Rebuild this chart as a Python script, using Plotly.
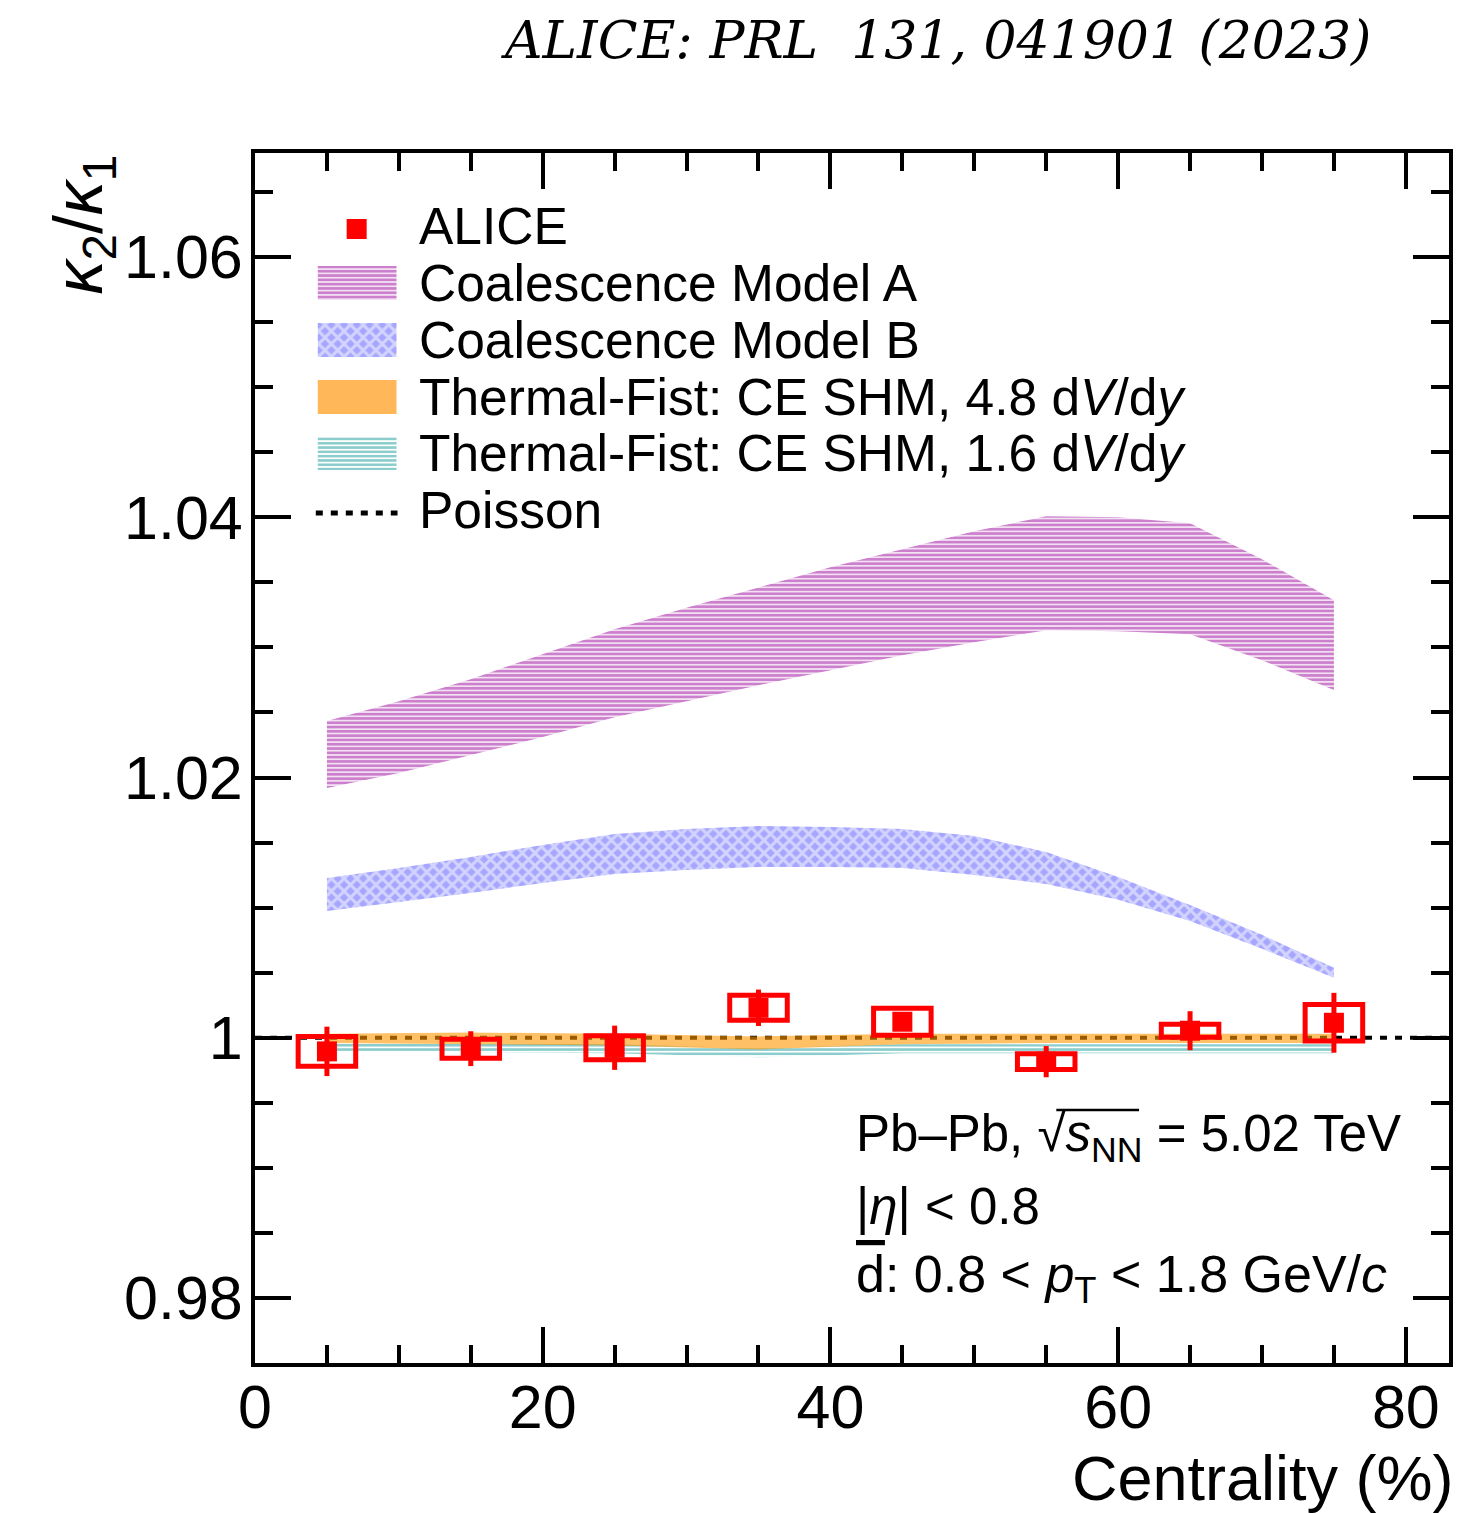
import plotly.graph_objects as go

# ---------------- data ----------------
cent = [5, 15, 25, 35, 45, 55, 65, 75]
alice_y = [0.99895, 0.99916, 0.99923, 1.00230, 1.00123, 0.99816, 1.00054, 1.00115]
alice_stat = [0.0019, 0.00134, 0.0017, 0.0014, 0.0006, 0.0012, 0.0015, 0.0023]
alice_sys = [0.00115, 0.00073, 0.00092, 0.00096, 0.00104, 0.0006, 0.0005, 0.0014]
box_halfwidth = 2.0

band_x = [5, 10, 15, 20, 25, 30, 35, 40, 45, 50, 55, 60, 65, 70, 75]
modelA_hi = [1.02434, 1.02587, 1.02756, 1.02948, 1.03140, 1.03305, 1.03463, 1.03616,
             1.03754, 1.03893, 1.04008, 1.04000, 1.03954, 1.03678, 1.03363]
modelA_lo = [1.01919, 1.02035, 1.02173, 1.02311, 1.02464, 1.02587, 1.02710, 1.02825,
             1.02940, 1.03040, 1.03132, 1.03125, 1.03102, 1.02902, 1.02672]
modelB_hi = [1.01228, 1.01305, 1.01390, 1.01482, 1.01566, 1.01605, 1.01628, 1.01620,
             1.01605, 1.01551, 1.01428, 1.01236, 1.01021, 1.00791, 1.00537]
modelB_lo = [1.00975, 1.01044, 1.01113, 1.01190, 1.01259, 1.01290, 1.01313, 1.01313,
             1.01305, 1.01251, 1.01182, 1.01060, 1.00898, 1.00683, 1.00461]

tf_x = [5, 15, 25, 35, 45, 55, 65, 75]
tf48_hi = [1.0003, 1.0004, 1.0003, 1.0001, 1.0003, 1.0003, 1.0003, 1.0003]
tf48_lo = [0.9996, 0.9995, 0.9994, 0.9991, 0.9995, 0.9996, 0.9996, 0.9996]
tf16_hi = [0.9996, 0.9996, 0.9995, 0.9992, 0.9995, 0.9995, 0.9995, 0.9995]
tf16_lo = [0.9989, 0.9989, 0.9988, 0.9985, 0.9988, 0.9988, 0.9988, 0.9988]

poisson_x = [0, 83]
poisson_y = [1, 1]

xtick_vals = [0, 20, 40, 60, 80]
xtick_text = ["0", "20", "40", "60", "80"]
ytick_vals = [0.98, 1.0, 1.02, 1.04, 1.06]
ytick_text = ["0.98", "1", "1.02", "1.04", "1.06"]

legend_labels = ["ALICE", "Coalescence Model A", "Coalescence Model B",
                 "Thermal-Fist: CE SHM, 4.8 d<i>V</i>/d<i>y</i>",
                 "Thermal-Fist: CE SHM, 1.6 d<i>V</i>/d<i>y</i>", "Poisson"]

# ---------------- styles ----------------
FONT = "Liberation Sans"
W, H = 1465, 1513
ML, MR, MT, MB = 255, 12, 153, 150
PW, PH = W - ML - MR, H - MT - MB

patA = dict(shape="-", fgcolor="#990099", bgcolor="rgba(255,255,255,0)", size=4.3, solidity=0.7)
patB = dict(shape="x", fgcolor="#ffffff", bgcolor="#a6a6ff", size=9, solidity=0.55)
pat16 = dict(shape="-", fgcolor="#189a9a", bgcolor="rgba(255,255,255,0)", size=4.3, solidity=0.6)
orange_fill = "rgba(255,150,0,0.6)"


def px2paper_x(p):
    return (p - ML) / PW


def px2paper_y(p):
    return (H - MB - p) / PH


def band(xs, hi, lo):
    return list(xs) + list(xs)[::-1], list(hi) + list(lo)[::-1]


fig = go.Figure()

fig.add_trace(go.Scatter(x=poisson_x, y=poisson_y, mode="lines",
                         line=dict(color="black", width=4, dash="7px,8px")))

bx, by = band(band_x, modelA_hi, modelA_lo)
fig.add_trace(go.Scatter(x=bx, y=by, fill="toself", mode="lines", line=dict(width=0),
                         fillcolor="rgba(0,0,0,0)", fillpattern=patA))

bx, by = band(band_x, modelB_hi, modelB_lo)
fig.add_trace(go.Scatter(x=bx, y=by, fill="toself", mode="lines", line=dict(width=0),
                         fillcolor="rgba(0,0,0,0)", fillpattern=patB))

bx, by = band(tf_x, tf16_hi, tf16_lo)
fig.add_trace(go.Scatter(x=bx, y=by, fill="toself", mode="lines", line=dict(width=0),
                         fillcolor="rgba(0,0,0,0)", fillpattern=pat16))

bx, by = band(tf_x, tf48_hi, tf48_lo)
fig.add_trace(go.Scatter(x=bx, y=by, fill="toself", mode="lines", line=dict(width=0),
                         fillcolor=orange_fill))

for xc, yc, s in zip(cent, alice_y, alice_sys):
    fig.add_shape(type="rect", xref="x", yref="y",
                  x0=xc - box_halfwidth, x1=xc + box_halfwidth, y0=yc - s, y1=yc + s,
                  line=dict(color="#ff0000", width=5), fillcolor="rgba(0,0,0,0)", layer="above")

fig.add_trace(go.Scatter(x=cent, y=alice_y, mode="markers",
                         marker=dict(symbol="square", size=20, color="#ff0000", line=dict(width=0)),
                         error_y=dict(type="data", array=alice_stat, color="#ff0000",
                                      thickness=5, width=0)))

# ---------------- hand-made legend (swatches on an overlay paper-like axis) ----------------
sw_x0, sw_x1 = 318, 397
row_y = [226, 283, 340, 397, 453, 510]
sw_half = 17
text_x = 418


def swatch(row, **kw):
    yc = row_y[row]
    xs = [px2paper_x(v) for v in (sw_x0, sw_x1, sw_x1, sw_x0, sw_x0)]
    ys = [px2paper_y(v) for v in (yc - sw_half, yc - sw_half, yc + sw_half, yc + sw_half, yc - sw_half)]
    fig.add_trace(go.Scatter(x=xs, y=ys, xaxis="x2", yaxis="y2", fill="toself", mode="lines",
                             line=dict(width=0), **kw))


fig.add_trace(go.Scatter(x=[px2paper_x(357)], y=[px2paper_y(row_y[0] + 3)], xaxis="x2", yaxis="y2",
                         mode="markers", marker=dict(symbol="square", size=20, color="#ff0000")))
swatch(1, fillcolor="rgba(0,0,0,0)", fillpattern=patA)
swatch(2, fillcolor="rgba(0,0,0,0)", fillpattern=patB)
swatch(3, fillcolor="rgba(255,170,60,0.85)")
swatch(4, fillcolor="rgba(0,0,0,0)", fillpattern=pat16)
fig.add_trace(go.Scatter(x=[px2paper_x(316), px2paper_x(398)], y=[px2paper_y(row_y[5] + 3)] * 2,
                         xaxis="x2", yaxis="y2", mode="lines",
                         line=dict(color="black", width=5, dash="7px,8px")))

# radical bar over s_NN
fig.add_shape(type="line", xref="paper", yref="paper",
              x0=px2paper_x(1059), x1=px2paper_x(1142), y0=px2paper_y(1110), y1=px2paper_y(1110),
              line=dict(color="black", width=2.5))

axis_common = dict(showline=True, linecolor="black", linewidth=4, mirror="allticks",
                   ticks="inside", ticklen=36, tickwidth=4, tickcolor="black",
                   showgrid=False, zeroline=False,
                   tickfont=dict(family=FONT, size=61, color="black"))

fig.update_xaxes(range=[0, 83], tickvals=xtick_vals, ticktext=xtick_text,
                 minor=dict(dtick=5, tick0=0, ticklen=18, tickwidth=4, ticks="inside",
                            tickcolor="black", showgrid=False),
                 ticklabelstandoff=-12, **axis_common)
fig.update_yaxes(range=[0.975, 1.068], tickvals=ytick_vals, ticktext=ytick_text,
                 minor=dict(dtick=0.005, tick0=0.98, ticklen=18, tickwidth=4, ticks="inside",
                            tickcolor="black", showgrid=False),
                 ticklabelstandoff=-4, **axis_common)

anns = [
    dict(text="<i>κ</i><sub>2</sub>/<i>κ</i><sub>1</sub>", x=px2paper_x(82), y=1.0, xref="paper", yref="paper",
         xanchor="center", yanchor="top", textangle=-90, showarrow=False,
         font=dict(family=FONT, size=68, color="black")),
    dict(text="Centrality (%)", x=1.006, y=px2paper_y(1478), xref="paper", yref="paper",
         xanchor="right", yanchor="middle", showarrow=False,
         font=dict(family=FONT, size=63, color="black")),
    dict(text="<i>ALICE: PRL\u00a0\u00a0131, 041901 (2023)</i>", x=px2paper_x(1377), y=px2paper_y(40),
         xref="paper", yref="paper", xanchor="right", yanchor="middle", showarrow=False,
         font=dict(family="DejaVu Serif", size=52, color="black")),
    dict(text="Pb\u2013Pb, \u221a<i>s</i><sub>NN</sub> = 5.02 TeV",
         x=px2paper_x(856), y=px2paper_y(1137), xref="paper", yref="paper",
         xanchor="left", yanchor="middle", showarrow=False,
         font=dict(family=FONT, size=51, color="black")),
    dict(text="|<i>η</i>| < 0.8", x=px2paper_x(856), y=px2paper_y(1206), xref="paper", yref="paper",
         xanchor="left", yanchor="middle", showarrow=False,
         font=dict(family=FONT, size=51, color="black")),
    dict(text="<span style='text-decoration:overline'>d</span>: 0.8 < <i>p</i><sub>T</sub> < 1.8 GeV/<i>c</i>",
         x=px2paper_x(856), y=px2paper_y(1278), xref="paper", yref="paper",
         xanchor="left", yanchor="middle", showarrow=False,
         font=dict(family=FONT, size=52, color="black")),
]
for lab, yc in zip(legend_labels, row_y):
    anns.append(dict(text=lab, x=px2paper_x(text_x), y=px2paper_y(yc), xref="paper", yref="paper",
                     xanchor="left", yanchor="middle", showarrow=False,
                     font=dict(family=FONT, size=51.5, color="black")))

fig.update_layout(
    width=W, height=H,
    margin=dict(l=ML, r=MR, t=MT, b=MB),
    plot_bgcolor="white", paper_bgcolor="white",
    showlegend=False,
    xaxis2=dict(range=[0, 1], domain=[0, 1], overlaying="x", anchor="y2", visible=False, fixedrange=True),
    yaxis2=dict(range=[0, 1], domain=[0, 1], overlaying="y", anchor="x2", visible=False, fixedrange=True),
    annotations=anns,
)

fig.write_html("out.html")
